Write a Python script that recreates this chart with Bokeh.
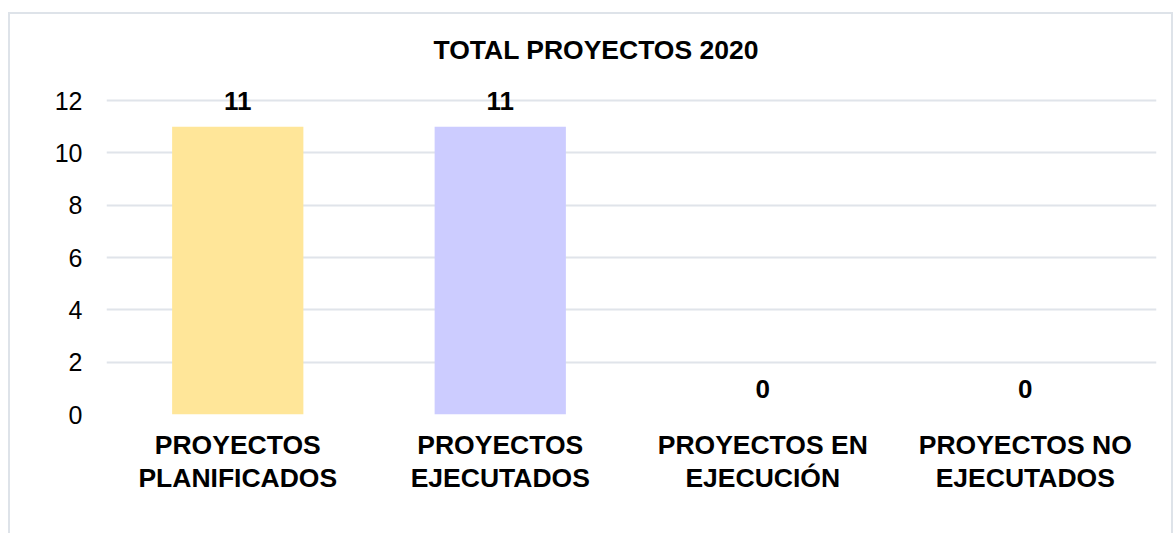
from bokeh.plotting import figure
from bokeh.models import (FactorRange, Range1d, LabelSet, ColumnDataSource, Title,
                          FixedTicker, InlineStyleSheet)
from bokeh.core.properties import value
from bokeh.embed import file_html
from bokeh.resources import INLINE

categories = ["PROYECTOS\nPLANIFICADOS", "PROYECTOS\nEJECUTADOS",
              "PROYECTOS EN\nEJECUCIÓN", "PROYECTOS NO\nEJECUTADOS"]
values = [11, 11, 0, 0]
bar_colors = ["#FFE699", "#CCCCFF", "#A9D18E", "#F4B183"]
y_ticks = [0, 2, 4, 6, 8, 10, 12]
title_text = "TOTAL PROYECTOS 2020"

FONT = "Liberation Sans"
GRID = "#E0E4EA"

src = ColumnDataSource(dict(cat=categories, val=values, color=bar_colors,
                            lbl=[str(v) for v in values]))

# frame: x 106..1156, y(12)=100, y(0)=414 ; extend range above 12 for label room
px_per_unit = (414 - 100) / 12.0
frame_top = 68
y_end = 12 + (100 - frame_top) / px_per_unit

p = figure(width=1173, height=533, output_backend="svg", toolbar_location=None,
           x_range=FactorRange(*categories, range_padding=0),
           y_range=Range1d(0, y_end),
           min_border_left=106, min_border_right=17,
           min_border_top=frame_top, min_border_bottom=533 - 414)
p.title = Title(text=title_text, text_font=FONT, text_font_size="26.5px",
                text_font_style="bold", text_color="#000000",
                align="left", offset=433 - 106, standoff=8)
p.outline_line_color = None
p.background_fill_color = "white"
p.border_fill_color = "white"

p.vbar(x="cat", top="val", width=0.5, color="color", line_color=None, source=src)

labels = LabelSet(x="cat", y="val", text="lbl", source=src, text_align="center",
                  text_baseline="alphabetic", y_offset=17, text_font=value(FONT),
                  text_font_size="26px", text_font_style="bold", text_color="#000000")
p.add_layout(labels)

p.xgrid.grid_line_color = None
p.ygrid.grid_line_color = GRID
p.ygrid.grid_line_width = 2
p.ygrid.ticker = FixedTicker(ticks=y_ticks)
p.yaxis.ticker = FixedTicker(ticks=y_ticks)
p.yaxis.axis_line_color = None
p.yaxis.major_tick_line_color = None
p.yaxis.minor_tick_line_color = None
p.yaxis.major_tick_out = 0
p.yaxis.major_tick_in = 0
p.yaxis.major_label_standoff = 24
p.yaxis.major_label_text_font = FONT
p.yaxis.major_label_text_font_size = "25px"
p.yaxis.major_label_text_color = "#000000"

p.xaxis.axis_line_color = None
p.xaxis.major_tick_line_color = None
p.xaxis.major_tick_out = 0
p.xaxis.major_tick_in = 0
p.xaxis.major_label_standoff = 15
p.xaxis.major_label_text_font = FONT
p.xaxis.major_label_text_font_size = "26.5px"
p.xaxis.major_label_text_font_style = "bold"
p.xaxis.major_label_text_color = "#000000"
p.xaxis.major_label_text_line_height = 1.12

p.stylesheets = [InlineStyleSheet(css="""
:host { position: relative; }
:host::after {
  content: "";
  position: absolute;
  left: 8px; top: 12px; width: 1165px; height: 521px;
  border: 2px solid #DEE3E9; border-bottom: none;
  box-sizing: border-box; pointer-events: none;
}
""")]

open("out.html", "w").write(file_html(p, INLINE))
